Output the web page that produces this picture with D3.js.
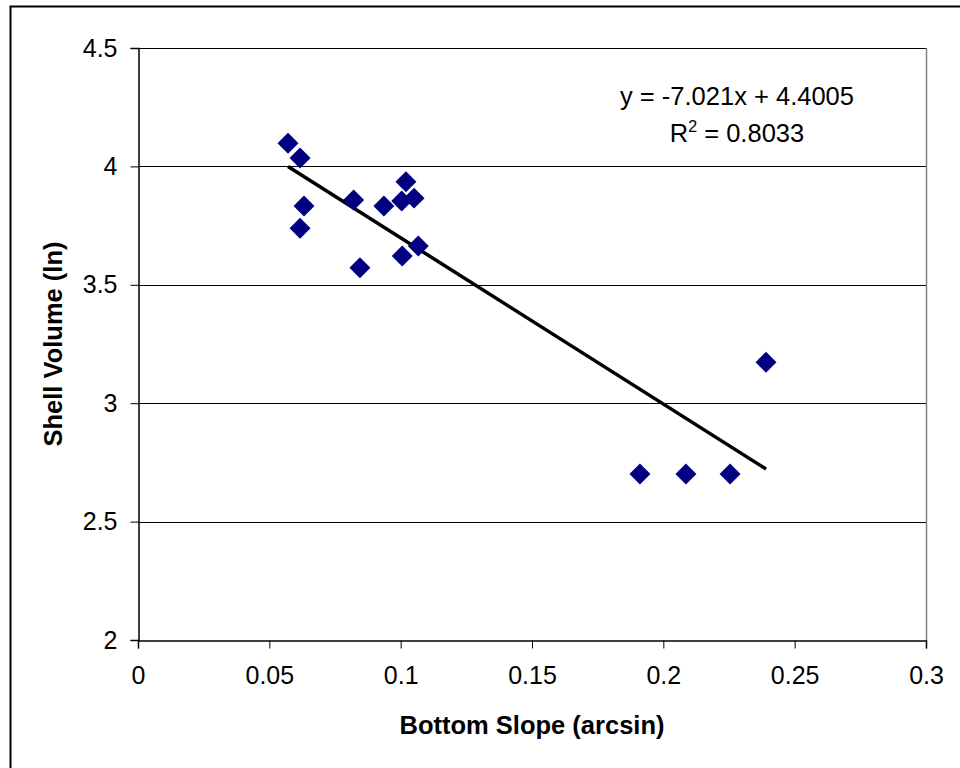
<!DOCTYPE html>
<html>
<head>
<meta charset="utf-8">
<script src="https://cdn.jsdelivr.net/npm/d3@7"></script>
<style>
  body { margin: 0; background: #fff; }
  text { font-family: "Liberation Sans", Arial, sans-serif; }
</style>
</head>
<body>
<div id="chart"></div>
<script>
// data
var slope = [0.0571, 0.0617, 0.0632, 0.0617, 0.0821, 0.0845, 0.0936, 0.1004, 0.1020,
             0.1051, 0.1067, 0.1006, 0.1911, 0.2086, 0.2254, 0.2391];
var volume = [4.098, 4.035, 3.833, 3.739, 3.858, 3.572, 3.833, 3.854, 3.935,
              3.866, 3.664, 3.622, 2.701, 2.701, 2.701, 3.173];
var xTicks = [0, 0.05, 0.1, 0.15, 0.2, 0.25, 0.3];
var yTicks = [2, 2.5, 3, 3.5, 4, 4.5];
var fitSlope = -7.021, fitIntercept = 4.4005, fitR2 = "0.8033";

var width = 960, height = 768;
var plotLeft = 138, plotRight = 926, plotTop = 48, plotBottom = 640;

var svg = d3.select("#chart").append("svg")
    .attr("width", width)
    .attr("height", height);

// outer chart border (runs off the right and bottom)
svg.append("rect")
    .attr("x", 10.5).attr("y", 6.5)
    .attr("width", 1000).attr("height", 800)
    .style("fill", "#fff")
    .style("stroke", "#000")
    .style("stroke-width", 2);

var x = d3.scaleLinear().domain([0, 0.3]).range([plotLeft, plotRight]);
var y = d3.scaleLinear().domain([2, 4.5]).range([plotBottom, plotTop]);

// gridlines
svg.selectAll(".grid")
    .data(yTicks.filter(function (d) { return d > 2; }))
    .enter().append("line")
    .attr("x1", plotLeft).attr("x2", plotRight)
    .attr("y1", function (d) { return Math.round(y(d)) + 0.5; })
    .attr("y2", function (d) { return Math.round(y(d)) + 0.5; })
    .style("stroke", "#000")
    .style("stroke-width", 1);

// right border of the plot area
svg.append("line")
    .attr("x1", plotRight + 0.5).attr("x2", plotRight + 0.5)
    .attr("y1", plotTop).attr("y2", plotBottom)
    .style("stroke", "#808080")
    .style("stroke-width", 1.5);

var xAxis = svg.append("g")
    .attr("transform", "translate(0," + (plotBottom + 0.5) + ")")
    .call(d3.axisBottom(x).tickValues(xTicks).tickFormat(d3.format("")).tickSize(8).tickPadding(18));

var yAxis = svg.append("g")
    .attr("transform", "translate(" + (plotLeft + 0.5) + ",0)")
    .call(d3.axisLeft(y).tickValues(yTicks).tickFormat(d3.format("")).tickSize(8).tickPadding(13));

[xAxis, yAxis].forEach(function (g) {
    g.select(".domain").style("stroke", "#000").style("stroke-width", 1.5);
    g.selectAll(".tick line").style("stroke", "#000");
    g.selectAll("text")
        .style("font-family", "'Liberation Sans', Arial, sans-serif")
        .style("font-size", "25px")
        .style("fill", "#000");
});

// trend line
var xMin = d3.min(slope), xMax = d3.max(slope);
svg.append("line")
    .attr("x1", x(xMin)).attr("y1", y(fitSlope * xMin + fitIntercept))
    .attr("x2", x(xMax)).attr("y2", y(fitSlope * xMax + fitIntercept))
    .style("stroke", "#000")
    .style("stroke-width", 3.5);

// diamond markers
var diamond = d3.symbol().type(d3.symbolSquare).size(220);
svg.selectAll(".pt")
    .data(slope)
    .enter().append("path")
    .attr("d", diamond)
    .attr("transform", function (d, i) {
        return "translate(" + x(d) + "," + y(volume[i]) + ") rotate(45)";
    })
    .style("fill", "#000080");

// equation
svg.append("text")
    .attr("x", 737).attr("y", 105)
    .attr("text-anchor", "middle")
    .style("font-size", "25.5px")
    .text("y = " + fitSlope + "x + " + fitIntercept);

var r2 = svg.append("text")
    .attr("x", 737).attr("y", 142)
    .attr("text-anchor", "middle")
    .style("font-size", "25.5px");
r2.append("tspan").text("R");
r2.append("tspan").attr("dy", -10).style("font-size", "16px").text("2");
r2.append("tspan").attr("dy", 10).text(" = " + fitR2);

// axis titles
svg.append("text")
    .attr("x", 532).attr("y", 734)
    .attr("text-anchor", "middle")
    .style("font-size", "25.5px")
    .style("font-weight", "bold")
    .text("Bottom Slope (arcsin)");

svg.append("text")
    .attr("transform", "translate(62,344) rotate(-90)")
    .attr("text-anchor", "middle")
    .style("font-size", "25.5px")
    .style("font-weight", "bold")
    .text("Shell Volume (ln)");
</script>
</body>
</html>
